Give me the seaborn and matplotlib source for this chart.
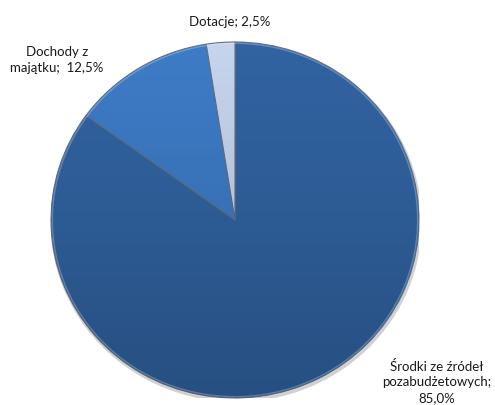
import numpy as np
import matplotlib
matplotlib.use("Agg")
import matplotlib.pyplot as plt
from matplotlib.patches import Ellipse
import seaborn as sns

# Revenue structure
categories = ["Środki ze źródeł\npozabudżetowych;\n85,0%", "Dochody z\nmajątku;  12,5%", "Dotacje; 2,5%"]
shares = [85.0, 12.5, 2.5]
colors = ["#3163a1", "#3d7bc6", "#c6d3ec"]

sns.set_theme(style="white")
plt.rcParams["font.family"] = ["Lato", "DejaVu Sans"]

fig = plt.figure(figsize=(4.95, 4.05), dpi=100)
fig.patch.set_facecolor("white")
# axes placed so the pie spans x 51..419 px and y 42..398 px
ax = fig.add_axes([51 / 495, (405 - 398) / 405, 368 / 495, 356 / 405])

wedges, _ = ax.pie(shares, colors=colors, startangle=90, counterclock=False,
                   radius=1.0,
                   wedgeprops=dict(edgecolor="#5f6f86", linewidth=0.8))
ax.set_aspect("auto")
ax.set_xlim(-1, 1)
ax.set_ylim(-1, 1)

# soft shadow beneath the rim
shadow = Ellipse((0.006, -0.012), 2.0, 2.0, facecolor="none", edgecolor="#000000",
                 linewidth=2.5, alpha=0.18, zorder=0.5)
ax.add_patch(shadow)

# vertical shading: slightly darker toward the bottom of the pie
grad = np.linspace(0, 1, 256).reshape(-1, 1)
shade = np.zeros((256, 1, 4))
shade[..., 3] = 0.20 * (1 - grad) ** 1.2
img = ax.imshow(shade, extent=(-1, 1, -1, 1), origin="lower", aspect="auto",
                interpolation="bilinear", zorder=3)
clip = Ellipse((0, 0), 2.0, 2.0, transform=ax.transData)
img.set_clip_path(clip)

# thin highlighted rim
rim = Ellipse((0, 0), 1.985, 1.985, facecolor="none", edgecolor="#ffffff",
              linewidth=1.0, alpha=0.25, zorder=4)
ax.add_patch(rim)
ax.axis("off")

# data labels
label_pos = [(437, 360), (57, 46), (230, 22)]
for text, (px, py) in zip(categories, label_pos):
    fig.text(px / 495, 1 - py / 405, text, ha="center", va="top" if "\n" in text else "center",
             fontsize=9.5, color="#1a1a1a", linespacing=1.35)

fig.savefig("out.png", dpi=100, facecolor="white")
